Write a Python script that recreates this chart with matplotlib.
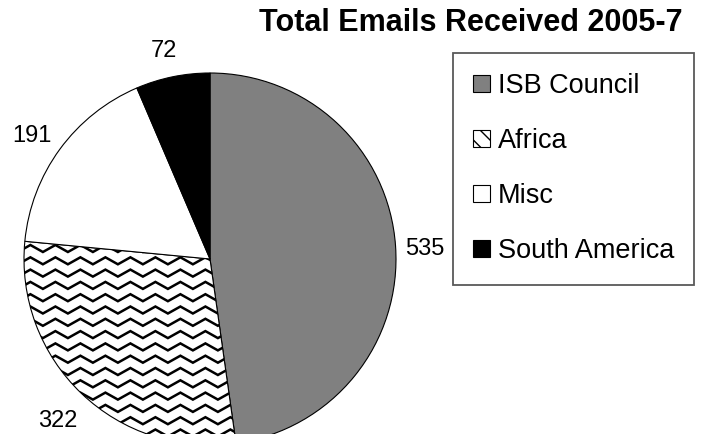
import matplotlib
matplotlib.use("Agg")
import matplotlib.pyplot as plt
from matplotlib.patches import Patch
import matplotlib.transforms as mtransforms
import numpy as np

plt.rcParams['font.family'] = ['Liberation Sans', 'DejaVu Sans']

# data
categories = ["ISB Council", "Africa", "Misc", "South America"]
emails = [535, 322, 191, 72]
colors = ["#808080", "white", "white", "black"]
title = "Total Emails Received 2005-7"

W, H = 707, 434
fig = plt.figure(figsize=(W / 100, H / 100), dpi=100)

# pie centre at (210, 259) px, radius 186 px
r_px = 186
cx, cy = 210, 259
ax = fig.add_axes([(cx - r_px) / W, (H - cy - r_px) / H, 2 * r_px / W, 2 * r_px / H])

wedges, texts = ax.pie(emails, colors=colors, startangle=90, counterclock=False,
                       labels=[str(v) for v in emails], labeldistance=1.17,
                       wedgeprops=dict(edgecolor="black", linewidth=0.8),
                       textprops=dict(fontsize=17))
shift = mtransforms.ScaledTranslation(-2 / 100, -5 / 100, fig.dpi_scale_trans)
for t in texts:
    t.set_ha("center")
    t.set_va("center")
    t.set_transform(t.get_transform() + shift)
ax.set_xlim(-1, 1)
ax.set_ylim(-1, 1)
ax.set_aspect("equal")
ax.axis("off")

# zigzag fill for Africa wedge
unit = 1.0 / r_px
period = 25 * unit
row = 12.3 * unit
amp = 3.5 * unit
xs = np.arange(-1.1, 0.4, period / 2)
ys_off = np.where(np.arange(len(xs)) % 2 == 0, amp, -amp)
for y0 in np.arange(-1.2, 0.2, row):
    ln, = ax.plot(xs, y0 + ys_off, color="black", lw=1.8, solid_joinstyle="miter")
    ln.set_clip_path(wedges[1])

# legend
handles = [Patch(facecolor=colors[0], edgecolor="black", lw=0.8),
           Patch(facecolor="white", edgecolor="black", hatch="\\\\", lw=0.8),
           Patch(facecolor=colors[2], edgecolor="black", lw=0.8),
           Patch(facecolor=colors[3], edgecolor="black", lw=0.8)]
leg = fig.legend(handles, categories, loc="upper left",
                 bbox_to_anchor=(453 / W, 1 - 53 / H), fontsize=19.5,
                 frameon=True, fancybox=False, borderpad=0.75,
                 handlelength=0.6, handleheight=0.6, handletextpad=0.3,
                 labelspacing=1.07, borderaxespad=0)
leg.get_frame().set_edgecolor("#303030")
leg.get_frame().set_linewidth(1.3)

fig.text(471 / W, 1 - 23 / H, title, ha="center", va="center",
         fontsize=22, fontweight="bold")

fig.savefig("out.png", dpi=100)
